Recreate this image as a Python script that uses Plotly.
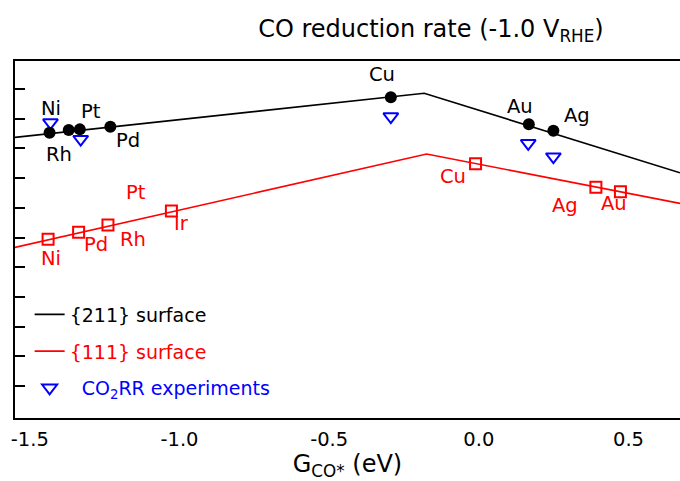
import plotly.graph_objects as go

# ---- data ----
# volcano lines (x = G_CO* in eV, y = rate, arbitrary log units)
line211_x = [-1.55, -0.1825, 0.672]
line211_y = [9.37, 10.855, 8.18]
line111_x = [-1.55, -0.1745, 0.672]
line111_y = [5.67, 8.81, 7.15]

# {211} surface metals
metals211 = ["Ni", "Rh", "Pt", "Pd", "Cu", "Au", "Ag"]
g211 = [-1.434, -1.370, -1.333, -1.231, -0.294, 0.167, 0.249]
rate211 = [9.53, 9.62, 9.64, 9.73, 10.72, 9.81, 9.59]

# {111} surface metals
metals111 = ["Ni", "Pd", "Rh", "Ir", "Cu", "Ag", "Au"]
g111 = [-1.439, -1.337, -1.239, -1.027, -0.011, 0.391, 0.473]
rate111 = [5.94, 6.18, 6.42, 6.89, 8.48, 7.69, 7.54]

# CO2RR experiments
exp_metals = ["Ni", "Pt", "Cu", "Au", "Ag"]
exp_x = [-1.431, -1.330, -0.294, 0.165, 0.249]
exp_y = [9.87, 9.31, 10.07, 9.17, 8.72]

# text labels: (text, x, y, colour)
labels = [
    ("Ni", -1.428, 10.33, "black"),
    ("Rh", -1.403, 8.78, "black"),
    ("Pt", -1.294, 10.24, "black"),
    ("Pd", -1.172, 9.28, "black"),
    ("Cu", -0.324, 11.47, "black"),
    ("Au", 0.137, 10.40, "black"),
    ("Ag", 0.329, 10.09, "black"),
    ("Ni", -1.429, 5.31, "red"),
    ("Pd", -1.279, 5.78, "red"),
    ("Rh", -1.156, 5.95, "red"),
    ("Ir", -0.992, 6.46, "red"),
    ("Pt", -1.144, 7.52, "red"),
    ("Cu", -0.088, 8.07, "red"),
    ("Ag", 0.288, 7.09, "red"),
    ("Au", 0.451, 7.13, "red"),
]

ytick_vals = list(range(1, 12))
xtick_vals = [-1.5, -1.0, -0.5, 0.0, 0.5]
xtick_text = ["-1.5", "-1.0", "-0.5", "0.0", "0.5"]

FONT = "DejaVu Sans"
RED = "#ff0000"
BLUE = "#0000ff"

fig = go.Figure()

fig.add_trace(go.Scatter(
    x=line211_x, y=line211_y, mode="lines",
    line=dict(color="black", width=1.6),
    name="{211} surface", legendgroup="a"))
fig.add_trace(go.Scatter(
    x=line111_x, y=line111_y, mode="lines",
    line=dict(color=RED, width=1.6),
    name="<span style='color:#ff0000'>{111} surface</span>", legendgroup="b"))
fig.add_trace(go.Scatter(
    x=exp_x, y=exp_y, mode="markers",
    marker=dict(symbol="triangle-down-open", size=13, color=BLUE, line=dict(width=2, color=BLUE)),
    name="<span style='color:#0000ff'>\u00a0\u00a0CO<sub>2</sub>RR experiments</span>",
    legendgroup="c"))
fig.add_trace(go.Scatter(
    x=g211, y=rate211, mode="markers",
    marker=dict(symbol="circle", size=12, color="black"),
    showlegend=False))
fig.add_trace(go.Scatter(
    x=g111, y=rate111, mode="markers",
    marker=dict(symbol="square-open", size=11, color=RED, line=dict(width=2, color=RED)),
    showlegend=False))

for t, x, y, c in labels:
    fig.add_annotation(x=x, y=y, xref="x", yref="y", text=t, showarrow=False,
                       font=dict(family=FONT, size=19.5, color=c),
                       xanchor="center", yanchor="middle")

fig.update_layout(
    width=680, height=481,
    margin=dict(l=15, r=0, t=61, b=63, pad=0),
    paper_bgcolor="white", plot_bgcolor="white",
    font=dict(family=FONT, size=19.5, color="black"),
    title=dict(text="CO reduction rate (-1.0 V<sub>RHE</sub>)",
               x=0.6254, xref="paper", xanchor="center",
               y=1 - 29 / 481, yref="container", yanchor="middle",
               font=dict(family=FONT, size=24, color="black")),
    showlegend=True,
    legend=dict(x=0.022, y=0.343, xanchor="left", yanchor="top",
                bgcolor="rgba(0,0,0,0)", borderwidth=0,
                traceorder="grouped", tracegroupgap=9,
                font=dict(family=FONT, size=19, color="black")),
)

fig.update_xaxes(
    range=[-1.5495, 0.672], showgrid=False, zeroline=False,
    showline=True, linecolor="black", linewidth=1.6, mirror=True,
    ticks="", tickvals=xtick_vals, ticktext=xtick_text,
    ticklabelstandoff=3,
    tickfont=dict(family=FONT, size=19.5, color="black"),
    title=dict(text="G<sub>CO*</sub> (eV)", font=dict(family=FONT, size=24, color="black"),
               standoff=14),
    automargin=False)
fig.update_yaxes(
    range=[-0.07, 11.94], showgrid=False, zeroline=False,
    showline=True, linecolor="black", linewidth=1.6, mirror=False,
    ticks="inside", ticklen=10, tickwidth=1.6, tickcolor="black",
    tickvals=ytick_vals, showticklabels=False,
    automargin=False)

fig.write_html("out.html")
